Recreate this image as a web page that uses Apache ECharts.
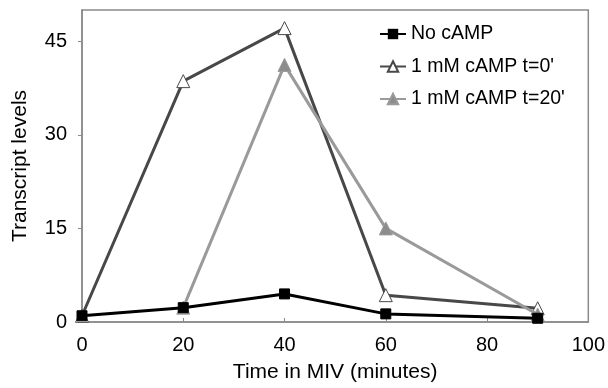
<!DOCTYPE html>
<html><head><meta charset="utf-8">
<script src="https://cdn.jsdelivr.net/npm/echarts@6/dist/echarts.min.js"></script>
<style>html,body{margin:0;padding:0;background:#fff}#c{width:608px;height:388px}</style>
</head><body><div id="c"></div>
<script>
const seriesNames = ["No cAMP", "1 mM cAMP t=0'", "1 mM cAMP t=20'"];
const xNoCamp = [0, 20, 40, 60, 90];
const yNoCamp = [1.0, 2.3, 4.5, 1.3, 0.6];
const xT0 = [0, 20, 40, 60, 90];
const yT0 = [1.0, 38.6, 47.1, 4.3, 2.2];
const xT20 = [20, 40, 60, 90];
const yT20 = [2.3, 41.2, 15.0, 1.2];
const xTicks = [0, 20, 40, 60, 80, 100];
const yTicks = [0, 15, 30, 45];

const pairs = (xs, ys) => xs.map((x, i) => [x, ys[i]]);
const font = 'Liberation Sans, Arial, sans-serif';
const chart = echarts.init(document.getElementById('c'), null, {renderer: 'canvas'});
chart.setOption({
  animation: false,
  backgroundColor: '#fff',
  grid: {left: 82, right: 18, top: 10, bottom: 66, show: true, borderColor: '#8a8a8a', borderWidth: 1.5},
  legend: {
    orient: 'vertical', left: 374, top: 19, itemGap: 12.5, itemWidth: 26, itemHeight: 13,
    textStyle: {fontFamily: font, fontSize: 19.5, color: '#000'},
    data: seriesNames
  },
  xAxis: {
    type: 'value', min: 0, max: 100, interval: 20,
    name: 'Time in MIV (minutes)', nameLocation: 'middle', nameGap: 40,
    nameTextStyle: {fontFamily: font, fontSize: 21, color: '#000'},
    axisLine: {show: true, lineStyle: {color: '#8a8a8a', width: 1.5}},
    axisTick: {show: true, inside: true, length: 4, lineStyle: {color: '#8a8a8a'}},
    axisLabel: {fontFamily: font, fontSize: 20, color: '#000', margin: 13,
      formatter: v => xTicks.includes(v) ? String(v) : ''},
    splitLine: {show: false}
  },
  yAxis: {
    type: 'value', min: 0, max: 50, interval: 15,
    name: 'Transcript levels', nameLocation: 'middle', nameGap: 51,
    nameTextStyle: {fontFamily: font, fontSize: 21, color: '#000'},
    axisLine: {show: true, lineStyle: {color: '#8a8a8a', width: 1.5}},
    axisTick: {show: true, length: 4, lineStyle: {color: '#8a8a8a'}},
    axisLabel: {fontFamily: font, fontSize: 20, color: '#000', margin: 15, showMaxLabel: false,
      formatter: v => yTicks.includes(v) ? String(v) : ''},
    splitLine: {show: false}
  },
  series: [
    {name: seriesNames[1], type: 'line', data: pairs(xT0, yT0), z: 3,
     lineStyle: {color: '#484848', width: 3}, symbol: 'triangle', symbolSize: 13,
     itemStyle: {color: '#fff', borderColor: '#484848', borderWidth: 1}},
    {name: seriesNames[2], type: 'line', data: pairs(xT20, yT20), z: 4,
     lineStyle: {color: '#9a9a9a', width: 3}, symbol: 'triangle', symbolSize: 13,
     itemStyle: {color: '#8c8c8c', borderColor: '#9a9a9a', borderWidth: 1}},
    {name: seriesNames[0], type: 'line', data: pairs(xNoCamp, yNoCamp), z: 5,
     lineStyle: {color: '#000', width: 3}, symbol: 'rect', symbolSize: 10,
     itemStyle: {color: '#000', borderColor: '#000'}}
  ]
});
</script></body></html>
